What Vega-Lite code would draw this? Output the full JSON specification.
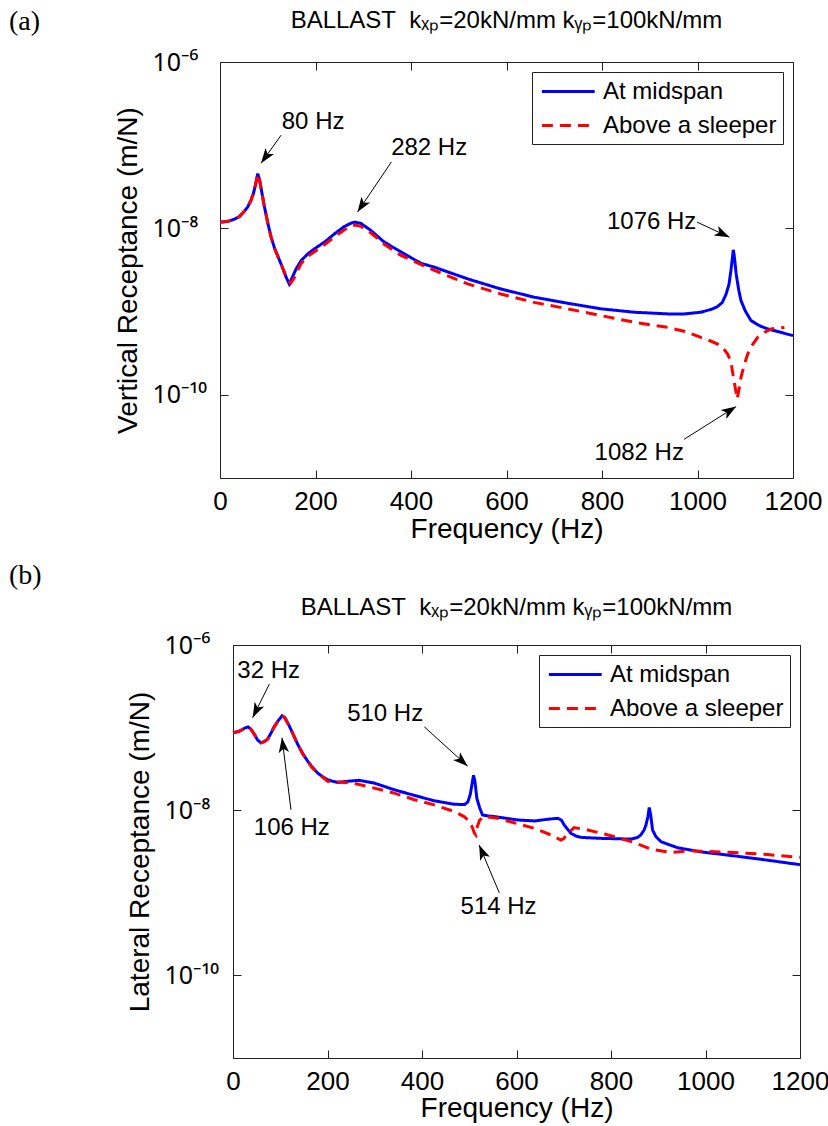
{
  "$schema": "https://vega.github.io/schema/vega-lite/v6.json",
  "padding": {"top": 7, "left": 7, "right": 5, "bottom": 5},
  "spacing": 17,
  "resolve": {"legend": {"color": "independent", "strokeDash": "independent"}},
  "datasets": {
    "aMid": [
      {"f":0,"v":1.19e-8},{"f":10,"v":1.20e-8},{"f":20,"v":1.23e-8},{"f":30,"v":1.29e-8},{"f":40,"v":1.38e-8},{"f":50,"v":1.58e-8},{"f":58,"v":1.81e-8},{"f":65,"v":2.19e-8},{"f":70,"v":2.63e-8},{"f":75,"v":3.47e-8},{"f":79,"v":4.56e-8},{"f":83,"v":3.80e-8},{"f":88,"v":2.63e-8},{"f":93,"v":1.82e-8},{"f":100,"v":1.17e-8},{"f":107,"v":7.85e-9},{"f":115,"v":5.62e-9},{"f":128,"v":3.72e-9},{"f":138,"v":2.63e-9},{"f":145,"v":2.15e-9},{"f":152,"v":2.63e-9},{"f":160,"v":3.31e-9},{"f":170,"v":4.11e-9},{"f":185,"v":5.01e-9},{"f":198,"v":5.69e-9},{"f":220,"v":6.92e-9},{"f":240,"v":8.63e-9},{"f":260,"v":1.05e-8},{"f":275,"v":1.16e-8},{"f":282,"v":1.19e-8},{"f":295,"v":1.15e-8},{"f":315,"v":9.55e-9},{"f":344,"v":6.84e-9},{"f":380,"v":5.19e-9},{"f":421,"v":3.80e-9},{"f":449,"v":3.42e-9},{"f":519,"v":2.47e-9},{"f":588,"v":1.87e-9},{"f":658,"v":1.49e-9},{"f":728,"v":1.26e-9},{"f":798,"v":1.08e-9},{"f":868,"v":9.82e-10},{"f":938,"v":9.38e-10},{"f":972,"v":9.38e-10},{"f":1007,"v":9.82e-10},{"f":1030,"v":1.07e-9},{"f":1042,"v":1.15e-9},{"f":1052,"v":1.29e-9},{"f":1060,"v":1.63e-9},{"f":1066,"v":2.14e-9},{"f":1070,"v":3.12e-9},{"f":1073,"v":4.37e-9},{"f":1075,"v":5.53e-9},{"f":1077,"v":4.68e-9},{"f":1081,"v":2.84e-9},{"f":1086,"v":1.86e-9},{"f":1091,"v":1.36e-9},{"f":1100,"v":1.02e-9},{"f":1112,"v":7.80e-10},{"f":1130,"v":6.76e-10},{"f":1147,"v":6.18e-10},{"f":1175,"v":5.62e-10},{"f":1200,"v":5.14e-10}
    ],
    "aSlp": [
      {"f":0,"v":1.19e-8},{"f":10,"v":1.20e-8},{"f":20,"v":1.23e-8},{"f":30,"v":1.29e-8},{"f":40,"v":1.38e-8},{"f":50,"v":1.58e-8},{"f":58,"v":1.81e-8},{"f":65,"v":2.19e-8},{"f":70,"v":2.63e-8},{"f":75,"v":3.47e-8},{"f":79,"v":4.52e-8},{"f":83,"v":3.80e-8},{"f":88,"v":2.63e-8},{"f":93,"v":1.82e-8},{"f":100,"v":1.17e-8},{"f":107,"v":7.85e-9},{"f":115,"v":5.62e-9},{"f":128,"v":3.72e-9},{"f":138,"v":2.69e-9},{"f":148,"v":2.19e-9},{"f":155,"v":2.51e-9},{"f":163,"v":3.16e-9},{"f":170,"v":3.80e-9},{"f":185,"v":4.68e-9},{"f":198,"v":5.25e-9},{"f":220,"v":6.46e-9},{"f":240,"v":7.94e-9},{"f":260,"v":9.55e-9},{"f":275,"v":1.07e-8},{"f":283,"v":1.10e-8},{"f":295,"v":1.06e-8},{"f":315,"v":8.91e-9},{"f":344,"v":6.46e-9},{"f":379,"v":4.73e-9},{"f":449,"v":3.12e-9},{"f":519,"v":2.15e-9},{"f":588,"v":1.63e-9},{"f":658,"v":1.29e-9},{"f":728,"v":1.08e-9},{"f":798,"v":8.95e-10},{"f":868,"v":7.43e-10},{"f":938,"v":6.46e-10},{"f":975,"v":5.75e-10},{"f":1007,"v":4.90e-10},{"f":1030,"v":4.37e-10},{"f":1042,"v":4.07e-10},{"f":1055,"v":3.55e-10},{"f":1063,"v":3.09e-10},{"f":1070,"v":2.51e-10},{"f":1073,"v":1.95e-10},{"f":1078,"v":1.32e-10},{"f":1083,"v":8.91e-11},{"f":1087,"v":1.17e-10},{"f":1091,"v":1.62e-10},{"f":1098,"v":2.29e-10},{"f":1105,"v":3.09e-10},{"f":1115,"v":3.98e-10},{"f":1126,"v":4.90e-10},{"f":1140,"v":5.62e-10},{"f":1154,"v":6.18e-10},{"f":1170,"v":6.38e-10},{"f":1182,"v":6.46e-10}
    ],
    "bMid": [
      {"f":0,"v":8.69e-8},{"f":10,"v":8.91e-8},{"f":17,"v":9.27e-8},{"f":25,"v":9.89e-8},{"f":32,"v":1.02e-7},{"f":38,"v":9.55e-8},{"f":45,"v":8.32e-8},{"f":52,"v":7.08e-8},{"f":59,"v":6.56e-8},{"f":66,"v":6.76e-8},{"f":73,"v":7.21e-8},{"f":80,"v":8.51e-8},{"f":87,"v":1.02e-7},{"f":95,"v":1.20e-7},{"f":104,"v":1.39e-7},{"f":110,"v":1.32e-7},{"f":119,"v":1.05e-7},{"f":128,"v":8.13e-8},{"f":137,"v":6.27e-8},{"f":147,"v":4.90e-8},{"f":158,"v":3.93e-8},{"f":168,"v":3.31e-8},{"f":179,"v":2.82e-8},{"f":190,"v":2.54e-8},{"f":200,"v":2.34e-8},{"f":211,"v":2.24e-8},{"f":222,"v":2.17e-8},{"f":243,"v":2.24e-8},{"f":267,"v":2.30e-8},{"f":299,"v":2.13e-8},{"f":341,"v":1.77e-8},{"f":384,"v":1.51e-8},{"f":426,"v":1.30e-8},{"f":468,"v":1.18e-8},{"f":490,"v":1.17e-8},{"f":497,"v":1.26e-8},{"f":502,"v":1.54e-8},{"f":506,"v":2.09e-8},{"f":509,"v":2.65e-8},{"f":512,"v":2.24e-8},{"f":516,"v":1.40e-8},{"f":522,"v":1.07e-8},{"f":528,"v":8.77e-9},{"f":540,"v":8.51e-9},{"f":553,"v":8.37e-9},{"f":602,"v":7.62e-9},{"f":638,"v":7.41e-9},{"f":665,"v":7.76e-9},{"f":687,"v":7.98e-9},{"f":695,"v":7.59e-9},{"f":701,"v":6.62e-9},{"f":708,"v":5.89e-9},{"f":715,"v":5.25e-9},{"f":727,"v":4.84e-9},{"f":737,"v":4.69e-9},{"f":779,"v":4.56e-9},{"f":842,"v":4.47e-9},{"f":856,"v":4.68e-9},{"f":863,"v":5.01e-9},{"f":870,"v":5.75e-9},{"f":874,"v":6.61e-9},{"f":878,"v":8.32e-9},{"f":881,"v":1.08e-8},{"f":884,"v":8.71e-9},{"f":888,"v":5.75e-9},{"f":895,"v":4.79e-9},{"f":906,"v":4.15e-9},{"f":941,"v":3.51e-9},{"f":990,"v":3.13e-9},{"f":1061,"v":2.80e-9},{"f":1132,"v":2.48e-9},{"f":1200,"v":2.19e-9}
    ],
    "bSlp": [
      {"f":0,"v":8.69e-8},{"f":10,"v":8.91e-8},{"f":17,"v":9.27e-8},{"f":25,"v":9.89e-8},{"f":32,"v":1.01e-7},{"f":38,"v":9.55e-8},{"f":45,"v":8.32e-8},{"f":52,"v":7.08e-8},{"f":59,"v":6.53e-8},{"f":66,"v":6.76e-8},{"f":73,"v":7.21e-8},{"f":80,"v":8.51e-8},{"f":87,"v":1.01e-7},{"f":95,"v":1.19e-7},{"f":104,"v":1.38e-7},{"f":110,"v":1.30e-7},{"f":119,"v":1.04e-7},{"f":128,"v":8.13e-8},{"f":137,"v":6.24e-8},{"f":147,"v":4.90e-8},{"f":158,"v":3.89e-8},{"f":168,"v":3.24e-8},{"f":179,"v":2.79e-8},{"f":190,"v":2.51e-8},{"f":200,"v":2.24e-8},{"f":222,"v":2.19e-8},{"f":254,"v":2.13e-8},{"f":299,"v":1.85e-8},{"f":341,"v":1.61e-8},{"f":384,"v":1.34e-8},{"f":426,"v":1.16e-8},{"f":468,"v":9.64e-9},{"f":489,"v":8.37e-9},{"f":500,"v":7.41e-9},{"f":506,"v":6.31e-9},{"f":511,"v":5.25e-9},{"f":514,"v":5.01e-9},{"f":517,"v":6.31e-9},{"f":522,"v":7.59e-9},{"f":531,"v":8.37e-9},{"f":560,"v":7.98e-9},{"f":600,"v":6.92e-9},{"f":638,"v":6.03e-9},{"f":673,"v":5.01e-9},{"f":694,"v":4.35e-9},{"f":700,"v":4.52e-9},{"f":708,"v":5.25e-9},{"f":722,"v":6.15e-9},{"f":751,"v":5.75e-9},{"f":800,"v":4.91e-9},{"f":849,"v":4.07e-9},{"f":885,"v":3.37e-9},{"f":927,"v":3.08e-9},{"f":969,"v":3.22e-9},{"f":1061,"v":3.08e-9},{"f":1132,"v":2.90e-9},{"f":1200,"v":2.69e-9}
    ],
    "annA": [
      {"label":"80 Hz","f":195,"v":1.89e-7},
      {"label":"282 Hz","f":438,"v":9.20e-8},
      {"label":"1076 Hz","f":904,"v":1.19e-8},
      {"label":"1082 Hz","f":878,"v":2.02e-11}
    ],
    "arrA": [
      {"id":"80","end":"tail","f":128,"v":1.32e-7},{"id":"80","end":"head","f":86,"v":6.07e-8,"angle":215.5},
      {"id":"282","end":"tail","f":359,"v":6.30e-8},{"id":"282","end":"head","f":288,"v":1.57e-8,"angle":213.7},
      {"id":"1076","end":"tail","f":999,"v":1.19e-8},{"id":"1076","end":"head","f":1067,"v":7.85e-9,"angle":114.9},
      {"id":"1082","end":"tail","f":972,"v":2.92e-11},{"id":"1082","end":"head","f":1081,"v":7.24e-11,"angle":57.8}
    ],
    "headA": [
      {"kind":"tag","label":"(a)","f":-442,"v":3.03e-6},
      {"kind":"title","label":"BALLAST\u00a0 kₓₚ=20kN/mm kᵧₚ=100kN/mm","f":600,"v":2.57e-6}
    ],
    "annB": [
      {"label":"32 Hz","f":75.5,"v":4.82e-7},
      {"label":"106 Hz","f":124.5,"v":6.03e-9},
      {"label":"510 Hz","f":322,"v":1.45e-7},
      {"label":"514 Hz","f":562,"v":6.68e-10}
    ],
    "arrB": [
      {"id":"32","end":"tail","f":77,"v":3.37e-7},{"id":"32","end":"head","f":41.6,"v":1.32e-7,"angle":206.5},
      {"id":"106","end":"tail","f":122.7,"v":1.01e-8},{"id":"106","end":"head","f":103.7,"v":7.55e-8,"angle":352.8},
      {"id":"510","end":"tail","f":405,"v":1.02e-7},{"id":"510","end":"head","f":496.7,"v":3.41e-8,"angle":131.9},
      {"id":"514","end":"tail","f":563.6,"v":1.00e-9},{"id":"514","end":"head","f":521,"v":3.78e-9,"angle":337.1}
    ],
    "headB": [
      {"kind":"tag","label":"(b)","f":-474,"v":6.75e-6},
      {"kind":"title","label":"BALLAST\u00a0 kₓₚ=20kN/mm kᵧₚ=100kN/mm","f":600,"v":2.32e-6}
    ]
  },
  "vconcat": [
    {
      "spacing": 0,
      "resolve": {"legend": {"color": "independent", "strokeDash": "independent"}},
      "hconcat": [
        {"width": 1, "height": 1, "view": {"stroke": null}, "data": {"values": []}, "mark": {"type": "point", "opacity": 0}, "encoding": {}},
        {
          "width": 573,
          "height": 416,
          "resolve": {"axis": {"x": "independent", "y": "independent"}},
          "layer": [
            {
              "data": {"name": "aMid"},
              "transform": [{"calculate": "'At midspan'", "as": "series"}],
              "mark": {"type": "line", "strokeWidth": 3},
              "encoding": {
                "x": {"field": "f", "type": "quantitative", "scale": {"domain": [0, 1200], "nice": false, "zero": false},
                      "axis": {"orient": "bottom", "title": "Frequency (Hz)", "values": [0,200,400,600,800,1000,1200], "format": "d", "labelFlush": false, "labelPadding": 18, "titlePadding": 1}},
                "y": {"field": "v", "type": "quantitative", "scale": {"type": "log", "domain": [1e-11, 1e-6], "nice": false},
                      "axis": {"orient": "left", "title": "Vertical Receptance (m/N)", "values": [1e-10, 1e-8, 1e-6], "labelExpr": "datum.value > 1e-7 ? '10⁻⁶' : (datum.value > 1e-9 ? '10⁻⁸' : '10⁻¹⁰')", "labelAlign": "left", "labelFont": "Noto Sans", "labelFontSize": 25, "labelPadding": 76, "titlePadding": 10}},
                "color": {"field": "series", "type": "nominal", "scale": {"domain": ["At midspan", "Above a sleeper"], "range": ["#0000ff", "#ff0000"]}, "legend": {"title": null}},
                "strokeDash": {"field": "series", "type": "nominal", "scale": {"domain": ["At midspan", "Above a sleeper"], "range": [[1, 0], [11, 7]]}, "legend": {"title": null}}
              }
            },
            {
              "data": {"name": "aSlp"},
              "transform": [{"calculate": "'Above a sleeper'", "as": "series"}],
              "mark": {"type": "line", "strokeWidth": 3},
              "encoding": {
                "x": {"field": "f", "type": "quantitative", "scale": {"domain": [0, 1200], "nice": false, "zero": false},
                      "axis": {"orient": "top", "title": null, "labels": false, "values": [0,200,400,600,800,1000,1200]}},
                "y": {"field": "v", "type": "quantitative", "scale": {"type": "log", "domain": [1e-11, 1e-6], "nice": false},
                      "axis": {"orient": "right", "title": null, "labels": false, "values": [1e-10, 1e-8, 1e-6]}},
                "color": {"field": "series", "type": "nominal", "scale": {"domain": ["At midspan", "Above a sleeper"], "range": ["#0000ff", "#ff0000"]}, "legend": {"title": null}},
                "strokeDash": {"field": "series", "type": "nominal", "scale": {"domain": ["At midspan", "Above a sleeper"], "range": [[1, 0], [11, 7]]}, "legend": {"title": null}}
              }
            },
            {
              "data": {"name": "arrA"},
              "mark": {"type": "line", "color": "#000", "strokeWidth": 1},
              "encoding": {
                "x": {"field": "f", "type": "quantitative", "scale": {"domain": [0, 1200], "nice": false, "zero": false}, "axis": null},
                "y": {"field": "v", "type": "quantitative", "scale": {"type": "log", "domain": [1e-11, 1e-6], "nice": false}, "axis": null},
                "detail": {"field": "id"}
              }
            },
            {
              "data": {"name": "arrA"},
              "transform": [{"filter": "datum.end == 'head'"}],
              "mark": {"type": "point", "shape": "M0,0L-0.35,1L0,0.75L0.35,1Z", "filled": true, "color": "#000", "opacity": 1, "size": 900, "strokeWidth": 0},
              "encoding": {
                "x": {"field": "f", "type": "quantitative", "scale": {"domain": [0, 1200], "nice": false, "zero": false}, "axis": null},
                "y": {"field": "v", "type": "quantitative", "scale": {"type": "log", "domain": [1e-11, 1e-6], "nice": false}, "axis": null},
                "angle": {"field": "angle", "type": "quantitative", "scale": null}
              }
            },
            {
              "data": {"name": "annA"},
              "mark": {"type": "text", "fontSize": 24, "align": "center", "baseline": "middle", "color": "#000"},
              "encoding": {
                "x": {"field": "f", "type": "quantitative", "scale": {"domain": [0, 1200], "nice": false, "zero": false}, "axis": null},
                "y": {"field": "v", "type": "quantitative", "scale": {"type": "log", "domain": [1e-11, 1e-6], "nice": false}, "axis": null},
                "text": {"field": "label"}
              }
            },
            {
              "data": {"name": "headA"},
              "transform": [{"filter": "datum.kind == 'tag'"}],
              "mark": {"type": "text", "font": "Liberation Serif", "fontSize": 28, "align": "left", "baseline": "middle", "color": "#000"},
              "encoding": {
                "x": {"field": "f", "type": "quantitative", "scale": {"domain": [0, 1200], "nice": false, "zero": false}, "axis": null},
                "y": {"field": "v", "type": "quantitative", "scale": {"type": "log", "domain": [1e-11, 1e-6], "nice": false}, "axis": null},
                "text": {"field": "label"}
              }
            },
            {
              "data": {"name": "headA"},
              "transform": [{"filter": "datum.kind == 'title'"}],
              "mark": {"type": "text", "fontSize": 24, "align": "center", "baseline": "alphabetic", "color": "#000"},
              "encoding": {
                "x": {"field": "f", "type": "quantitative", "scale": {"domain": [0, 1200], "nice": false, "zero": false}, "axis": null},
                "y": {"field": "v", "type": "quantitative", "scale": {"type": "log", "domain": [1e-11, 1e-6], "nice": false}, "axis": null},
                "text": {"field": "label"}
              }
            }
          ]
        }
      ]
    },
    {
      "spacing": 0,
      "resolve": {"legend": {"color": "independent", "strokeDash": "independent"}},
      "hconcat": [
        {"width": 1, "height": 1, "view": {"stroke": null}, "data": {"values": []}, "mark": {"type": "point", "opacity": 0}, "encoding": {}},
        {
          "width": 567,
          "height": 413,
          "resolve": {"axis": {"x": "independent", "y": "independent"}},
          "layer": [
            {
              "data": {"name": "bMid"},
              "transform": [{"calculate": "'At midspan'", "as": "series"}],
              "mark": {"type": "line", "strokeWidth": 3},
              "encoding": {
                "x": {"field": "f", "type": "quantitative", "scale": {"domain": [0, 1200], "nice": false, "zero": false},
                      "axis": {"orient": "bottom", "title": "Frequency (Hz)", "values": [0,200,400,600,800,1000,1200], "format": "d", "labelFlush": false, "labelPadding": 18, "titlePadding": 0}},
                "y": {"field": "v", "type": "quantitative", "scale": {"type": "log", "domain": [1e-11, 1e-6], "nice": false},
                      "axis": {"orient": "left", "title": "Lateral Receptance (m/N)", "values": [1e-10, 1e-8, 1e-6], "labelExpr": "datum.value > 1e-7 ? '10⁻⁶' : (datum.value > 1e-9 ? '10⁻⁸' : '10⁻¹⁰')", "labelAlign": "left", "labelFont": "Noto Sans", "labelFontSize": 25, "labelPadding": 77, "titlePadding": 10}},
                "color": {"field": "series", "type": "nominal", "scale": {"domain": ["At midspan", "Above a sleeper"], "range": ["#0000ff", "#ff0000"]}, "legend": {"title": null}},
                "strokeDash": {"field": "series", "type": "nominal", "scale": {"domain": ["At midspan", "Above a sleeper"], "range": [[1, 0], [11, 7]]}, "legend": {"title": null}}
              }
            },
            {
              "data": {"name": "bSlp"},
              "transform": [{"calculate": "'Above a sleeper'", "as": "series"}],
              "mark": {"type": "line", "strokeWidth": 3},
              "encoding": {
                "x": {"field": "f", "type": "quantitative", "scale": {"domain": [0, 1200], "nice": false, "zero": false},
                      "axis": {"orient": "top", "title": null, "labels": false, "values": [0,200,400,600,800,1000,1200]}},
                "y": {"field": "v", "type": "quantitative", "scale": {"type": "log", "domain": [1e-11, 1e-6], "nice": false},
                      "axis": {"orient": "right", "title": null, "labels": false, "values": [1e-10, 1e-8, 1e-6]}},
                "color": {"field": "series", "type": "nominal", "scale": {"domain": ["At midspan", "Above a sleeper"], "range": ["#0000ff", "#ff0000"]}, "legend": {"title": null}},
                "strokeDash": {"field": "series", "type": "nominal", "scale": {"domain": ["At midspan", "Above a sleeper"], "range": [[1, 0], [11, 7]]}, "legend": {"title": null}}
              }
            },
            {
              "data": {"name": "arrB"},
              "mark": {"type": "line", "color": "#000", "strokeWidth": 1},
              "encoding": {
                "x": {"field": "f", "type": "quantitative", "scale": {"domain": [0, 1200], "nice": false, "zero": false}, "axis": null},
                "y": {"field": "v", "type": "quantitative", "scale": {"type": "log", "domain": [1e-11, 1e-6], "nice": false}, "axis": null},
                "detail": {"field": "id"}
              }
            },
            {
              "data": {"name": "arrB"},
              "transform": [{"filter": "datum.end == 'head'"}],
              "mark": {"type": "point", "shape": "M0,0L-0.35,1L0,0.75L0.35,1Z", "filled": true, "color": "#000", "opacity": 1, "size": 900, "strokeWidth": 0},
              "encoding": {
                "x": {"field": "f", "type": "quantitative", "scale": {"domain": [0, 1200], "nice": false, "zero": false}, "axis": null},
                "y": {"field": "v", "type": "quantitative", "scale": {"type": "log", "domain": [1e-11, 1e-6], "nice": false}, "axis": null},
                "angle": {"field": "angle", "type": "quantitative", "scale": null}
              }
            },
            {
              "data": {"name": "annB"},
              "mark": {"type": "text", "fontSize": 24, "align": "center", "baseline": "middle", "color": "#000"},
              "encoding": {
                "x": {"field": "f", "type": "quantitative", "scale": {"domain": [0, 1200], "nice": false, "zero": false}, "axis": null},
                "y": {"field": "v", "type": "quantitative", "scale": {"type": "log", "domain": [1e-11, 1e-6], "nice": false}, "axis": null},
                "text": {"field": "label"}
              }
            },
            {
              "data": {"name": "headB"},
              "transform": [{"filter": "datum.kind == 'tag'"}],
              "mark": {"type": "text", "font": "Liberation Serif", "fontSize": 28, "align": "left", "baseline": "middle", "color": "#000"},
              "encoding": {
                "x": {"field": "f", "type": "quantitative", "scale": {"domain": [0, 1200], "nice": false, "zero": false}, "axis": null},
                "y": {"field": "v", "type": "quantitative", "scale": {"type": "log", "domain": [1e-11, 1e-6], "nice": false}, "axis": null},
                "text": {"field": "label"}
              }
            },
            {
              "data": {"name": "headB"},
              "transform": [{"filter": "datum.kind == 'title'"}],
              "mark": {"type": "text", "fontSize": 24, "align": "center", "baseline": "alphabetic", "color": "#000"},
              "encoding": {
                "x": {"field": "f", "type": "quantitative", "scale": {"domain": [0, 1200], "nice": false, "zero": false}, "axis": null},
                "y": {"field": "v", "type": "quantitative", "scale": {"type": "log", "domain": [1e-11, 1e-6], "nice": false}, "axis": null},
                "text": {"field": "label"}
              }
            }
          ]
        }
      ]
    }
  ],
  "config": {
    "font": "Liberation Sans",
    "view": {"stroke": "#222", "strokeWidth": 1},
    "axis": {
      "grid": false,
      "domain": false,
      "tickSize": -8,
      "tickColor": "#222",
      "tickWidth": 1,
      "labelFontSize": 26,
      "labelColor": "#000",
      "labelFont": "Liberation Sans",
      "titleFontSize": 28,
      "titleFontWeight": "normal",
      "titleColor": "#000",
      "titleFont": "Liberation Sans",
      "labelOverlap": false
    },
    "legend": {
      "orient": "top-right",
      "offset": 10,
      "strokeColor": "#222",
      "fillColor": "#ffffff",
      "padding": 6,
      "labelFontSize": 24,
      "labelFont": "Liberation Sans",
      "labelColor": "#000",
      "labelLimit": 400,
      "symbolType": "M-0.8,0L3.6,0",
      "symbolSize": 576,
      "symbolStrokeWidth": 3,
      "rowPadding": 8,
      "labelOffset": 38,
      "cornerRadius": 0
    }
  }
}
